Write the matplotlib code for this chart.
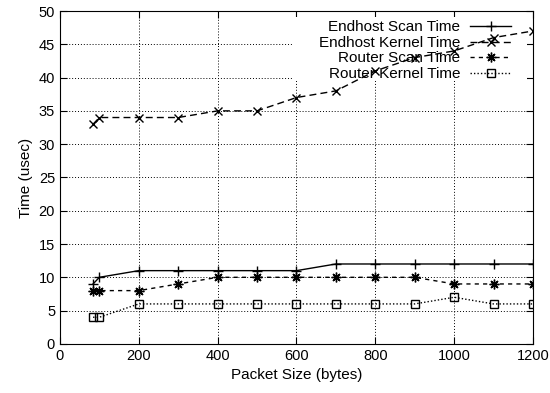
import matplotlib
matplotlib.use("Agg")
import matplotlib.pyplot as plt
from matplotlib.patches import Rectangle

plt.rcParams['font.family'] = ['Liberation Sans', 'DejaVu Sans']
plt.rcParams['font.size'] = 11

# packet sizes (bytes)
sizes = [84, 100, 200, 300, 400, 500, 600, 700, 800, 900, 1000, 1100, 1200]

# times in usec
endhost_scan = [9, 10, 11, 11, 11, 11, 11, 12, 12, 12, 12, 12, 12]
endhost_kernel = [33, 34, 34, 34, 35, 35, 37, 38, 41, 43, 44, 46, 47]
router_scan = [8, 8, 8, 9, 10, 10, 10, 10, 10, 10, 9, 9, 9]
router_kernel = [4, 4, 6, 6, 6, 6, 6, 6, 6, 6, 7, 6, 6]

fig = plt.figure(figsize=(5.5, 3.93), dpi=100)
ax = fig.add_axes([0.109, 0.125, 0.860, 0.847])

ax.plot(sizes, endhost_scan, color="black", lw=1, ls="-", marker="+", ms=7,
        label="Endhost Scan Time")
ax.plot(sizes, endhost_kernel, color="black", lw=1, ls=(0, (5, 3)), marker="x", ms=6,
        label="Endhost Kernel Time")
ax.plot(sizes, router_scan, color="black", lw=1, ls=(0, (3, 3)), marker=(8, 2, 0), ms=7,
        label="Router Scan Time")
ax.plot(sizes, router_kernel, color="black", lw=1, ls=(0, (1, 1.5)), marker="s", ms=6,
        mfc="none", mew=1, label="Router Kernel Time")

ax.set_xlim(0, 1200)
ax.set_ylim(0, 50)
ax.set_xticks(range(0, 1201, 200))
ax.set_yticks(range(0, 51, 5))
ax.tick_params(direction="in", top=True, right=True, length=5, labelsize=10.5)
ax.grid(True, color="black", ls=(0, (1, 2)), lw=0.7)
ax.set_axisbelow(True)

# gnuplot blanks the grid behind the key (stop short of the tick marks)
ax.add_patch(Rectangle((0.493, 0.79), 0.494, 0.193, transform=ax.transAxes,
                       facecolor="white", edgecolor="none", zorder=1))

ax.set_xlabel("Packet Size (bytes)")
ax.set_ylabel("Time (usec)")

leg = ax.legend(loc="upper right", bbox_to_anchor=(0.967, 0.99), markerfirst=False,
                frameon=False, handlelength=2.7, borderaxespad=0, labelspacing=0.1,
                handletextpad=0.65)
for t in leg.get_texts():
    t.set_ha("right")
leg._legend_box.align = "right"

fig.savefig("out.png", dpi=100)
